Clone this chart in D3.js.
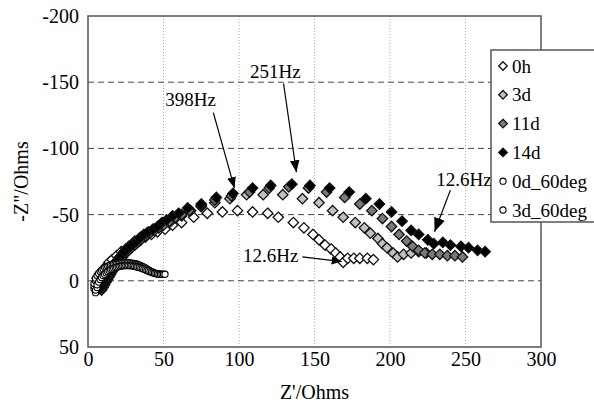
<!DOCTYPE html>
<html>
<head>
<meta charset="utf-8">
<script src="https://cdn.jsdelivr.net/npm/d3@7"></script>
<style>
  body { margin: 0; background: #fff; }
  svg text { font-family: "Liberation Serif", "Times New Roman", serif; fill: #000; }
</style>
</head>
<body>
<div id="chart"></div>
<script>
// Series names (legend order)
var seriesNames = ["0h", "3d", "11d", "14d", "0d_60deg", "3d_60deg"]

// Z' values (Ohms) per series
var x0h = [6, 8, 10, 12, 14, 16, 19, 22, 25, 28, 31, 34, 38, 42, 46, 51, 56, 62, 70, 79, 89, 99, 109, 119, 126, 136, 143, 149, 153, 157, 161, 164, 167, 169, 172, 176, 180, 185, 189]
var x3d = [9, 10, 11, 12, 13, 15, 17, 19, 21, 24, 27, 31, 35, 39, 44, 49, 55, 62, 68, 75, 84, 94, 105, 116, 129, 142, 153, 162, 169, 177, 183, 187, 192, 195, 198, 202, 205, 209, 214, 219, 224]
var x11d = [9, 10, 11, 12, 13, 14, 15, 16, 17, 19, 21, 23, 25, 27, 29, 31, 33, 35, 38, 41, 44, 47, 50, 54, 58, 62, 67, 75, 84, 95, 107, 120, 133, 146, 158, 170, 180, 188, 195, 201, 206, 211, 215, 219, 223, 228, 233, 238, 243, 248]
var x14d = [8, 9, 10, 11, 12, 13, 14, 15, 16, 18, 20, 22, 24, 26, 28, 30, 32, 34, 37, 40, 43, 46, 49, 52, 56, 60, 66, 75, 85, 96, 109, 121, 135, 147, 160, 173, 184, 193, 201, 208, 214, 219, 225, 229, 235, 240, 247, 252, 258, 263]
var x0d60 = [4, 4, 4, 5, 5, 6, 7, 8, 9, 10, 11, 12, 13, 14, 15, 16, 17, 18, 19, 20, 21, 22, 23, 24, 25, 26, 27, 28, 29, 30, 31, 32, 33, 34, 35, 36, 37, 38, 39, 40, 41, 42, 43, 44, 45, 46, 47, 48]
var x3d60 = [5, 5, 6, 6, 7, 8, 9, 10, 11, 12, 13, 14, 15, 16, 17, 18, 19, 20, 21, 22, 23, 24, 25, 26, 27, 28, 29, 30, 31, 32, 33, 34, 35, 36, 37, 38, 39, 40, 41, 42, 43, 44, 45, 46, 47, 48, 49, 50, 51]

// -Z'' values (Ohms) per series
var y0h = [-2, -5, -8, -11, -14, -16, -19, -22, -24, -26, -28, -30, -33, -35, -37, -39, -42, -44, -48, -51, -52, -53, -52, -51, -48, -44, -40, -35, -31, -27, -24, -21, -18, -14, -17, -17, -17, -17, -16]
var y3d = [2, 0, -2, -4, -6, -9, -12, -15, -18, -22, -26, -30, -33, -36, -39, -42, -45, -49, -53, -56, -59, -62, -65, -65, -65, -62, -59, -53, -48, -44, -40, -36, -32, -28, -25, -21, -18, -20, -21, -22, -21]
var y11d = [7, 5, 3, 1, -1, -3, -5, -7, -9, -12, -15, -18, -21, -23, -25, -27, -29, -31, -34, -36, -38, -40, -42, -45, -48, -50, -53, -57, -61, -64, -67, -70, -71, -70, -67, -63, -58, -53, -47, -41, -35, -30, -26, -23, -21, -20, -20, -19, -19, -18]
var y14d = [6, 5, 3, 1, -1, -3, -5, -7, -9, -13, -16, -19, -22, -24, -26, -28, -30, -32, -35, -37, -39, -41, -44, -46, -49, -51, -55, -58, -63, -66, -70, -72, -73, -72, -70, -67, -62, -58, -52, -45, -38, -35, -31, -28, -29, -27, -26, -25, -23, -22]
var y0d60 = [6, 4, 2, 0, -2, -4, -5.5, -7, -8, -9, -10, -10.5, -11, -11.5, -12, -12.3, -12.6, -12.9, -13.1, -13.3, -13.5, -13.6, -13.7, -13.8, -13.8, -13.8, -13.7, -13.6, -13.4, -13.2, -13, -12.7, -12.3, -11.9, -11.4, -10.9, -10.3, -9.7, -9, -8.3, -7.6, -7, -6.5, -6, -5.6, -5.3, -5.1, -5]
var y3d60 = [9, 7, 5, 3, 1, -1, -2.5, -4, -5, -6, -7, -7.8, -8.5, -9, -9.5, -10, -10.3, -10.6, -10.9, -11.1, -11.3, -11.4, -11.5, -11.5, -11.5, -11.4, -11.3, -11.1, -10.9, -10.6, -10.3, -10, -9.6, -9.2, -8.8, -8.3, -7.8, -7.3, -6.8, -6.4, -6, -5.7, -5.4, -5.2, -5, -5, -5, -5, -5]

// Axis ticks
var xTicks = [0, 50, 100, 150, 200, 250, 300]
var yTicks = [-200, -150, -100, -50, 0, 50]

// Frequency annotations: label, text position, arrow start, arrow end
var noteLabels = ["398Hz", "251Hz", "12.6Hz", "12.6Hz"]
var noteText = [[68, -137], [124, -158.5], [249, -77], [121, -19.5]]
var noteFrom = [[83, -127], [129.5, -149], [240, -68.5], [142, -18]]
var noteTo = [[97, -70], [138, -82], [229.5, -37], [168, -14.5]]
var noteHead = [11, 12, 14, 10]

var series = seriesNames.map(function (name, i) {
  var xs = [x0h, x3d, x11d, x14d, x0d60, x3d60][i]
  var ys = [y0h, y3d, y11d, y14d, y0d60, y3d60][i]
  return { name: name, values: xs.map(function (x, j) { return { x: x, y: ys[j] } }) }
})

var width = 594, height = 402
var margin = { top: 16, right: 53, bottom: 55, left: 88 }

var svg = d3.select("#chart").append("svg")
  .attr("width", width)
  .attr("height", height)

var x = d3.scaleLinear().domain([0, 300]).range([margin.left, width - margin.right])
var y = d3.scaleLinear().domain([-200, 50]).range([margin.top, height - margin.bottom])

// Marker style per series
var shape = ["diamond", "diamond", "diamond", "diamond", "circle", "circle"]
var fill = ["#fff", "#c0c0c0", "#7a7a7a", "#000", "#fff", "#fff"]

// Gridlines
svg.append("g")
  .selectAll("line")
  .data(xTicks.slice(1, -1))
  .enter()
  .append("line")
  .attr("x1", (d) => x(d)).attr("x2", (d) => x(d))
  .attr("y1", y(-200)).attr("y2", y(50))
  .attr("stroke", "#aaa")
  .attr("stroke-width", 1)
  .attr("stroke-dasharray", "1,2")

svg.append("g")
  .selectAll("line")
  .data(yTicks.slice(1, -1))
  .enter()
  .append("line")
  .attr("x1", x(0)).attr("x2", x(300))
  .attr("y1", (d) => y(d)).attr("y2", (d) => y(d))
  .attr("stroke", "#444")
  .attr("stroke-width", 1)
  .attr("stroke-dasharray", "6,4")

// Plot frame
svg.append("rect")
  .attr("x", x(0)).attr("y", y(-200))
  .attr("width", x(300) - x(0)).attr("height", y(50) - y(-200))
  .attr("fill", "none")
  .attr("stroke", "#555")
  .attr("stroke-width", 1.5)

// Axes (plain hyphen for negatives, like the original)
var fmt = (d) => String(d)

var xAxis = svg.append("g")
  .attr("transform", "translate(0," + y(50) + ")")
  .call(d3.axisBottom(x).tickValues(xTicks).tickFormat(fmt).tickSize(0).tickPadding(5))
xAxis.select(".domain").remove()

var yAxis = svg.append("g")
  .attr("transform", "translate(" + x(0) + ",0)")
  .call(d3.axisLeft(y).tickValues(yTicks).tickFormat(fmt).tickSize(0).tickPadding(9))
yAxis.select(".domain").remove()
svg.selectAll(".tick text").style("font-size", "20px")

// Axis titles
svg.append("text")
  .attr("x", x(150))
  .attr("y", 399)
  .attr("text-anchor", "middle")
  .style("font-size", "20px")
  .text("Z'/Ohms")

svg.append("text")
  .attr("transform", "translate(28," + y(-75) + ") rotate(-90)")
  .attr("text-anchor", "middle")
  .style("font-size", "20px")
  .text('-Z"/Ohms')

// Data markers
function drawMarker(sel, i, r) {
  if (shape[i] === "circle") {
    sel.append("circle")
      .attr("r", 3.1)
      .attr("fill", fill[i])
      .attr("stroke", "#000")
      .attr("stroke-width", 1.1)
  } else {
    sel.append("path")
      .attr("d", "M0," + -r + "L" + r + ",0L0," + r + "L" + -r + ",0Z")
      .attr("fill", fill[i])
      .attr("stroke", "#111")
      .attr("stroke-width", 1.3)
  }
}

series.forEach(function (s, i) {
  var pts = svg.append("g")
    .attr("class", "series")
    .selectAll("g")
    .data(s.values)
    .enter()
    .append("g")
    .attr("transform", (d) => "translate(" + x(d.x) + "," + y(d.y) + ")")
  drawMarker(pts, i, 5.2)
})

// Annotations with arrows (one arrowhead marker per size)
var defs = svg.append("defs")

noteLabels.forEach(function (label, i) {
  defs.append("marker")
    .attr("id", "arrow" + i)
    .attr("viewBox", "0 0 10 10")
    .attr("refX", 10).attr("refY", 5)
    .attr("markerWidth", noteHead[i]).attr("markerHeight", noteHead[i])
    .attr("markerUnits", "userSpaceOnUse")
    .attr("orient", "auto")
    .append("path")
    .attr("d", "M0,1 L10,5 L0,9 Z")
    .attr("fill", "#000")

  svg.append("line")
    .attr("x1", x(noteFrom[i][0])).attr("y1", y(noteFrom[i][1]))
    .attr("x2", x(noteTo[i][0])).attr("y2", y(noteTo[i][1]))
    .attr("stroke", "#000")
    .attr("stroke-width", 1.2)
    .attr("marker-end", "url(#arrow" + i + ")")
  svg.append("text")
    .attr("x", x(noteText[i][0]))
    .attr("y", y(noteText[i][1]))
    .attr("dy", "0.35em")
    .attr("text-anchor", "middle")
    .style("font-size", "19px")
    .text(label)
})

// Legend
var legend = svg.append("g").attr("class", "legend")

legend.append("rect")
  .attr("x", 491).attr("y", 50)
  .attr("width", 110).attr("height", 172)
  .attr("fill", "#fff")
  .attr("stroke", "#555")
  .attr("stroke-width", 1.5)

var items = legend.selectAll("g")
  .data(seriesNames)
  .enter()
  .append("g")
  .attr("transform", (d, i) => "translate(503," + (66 + i * 28.8) + ")")

items.each(function (d, i) {
  drawMarker(d3.select(this), i, 4.3)
})

items.append("text")
  .attr("x", 9)
  .attr("dy", "0.35em")
  .style("font-size", "19px")
  .text((d) => d)
</script>
</body>
</html>
